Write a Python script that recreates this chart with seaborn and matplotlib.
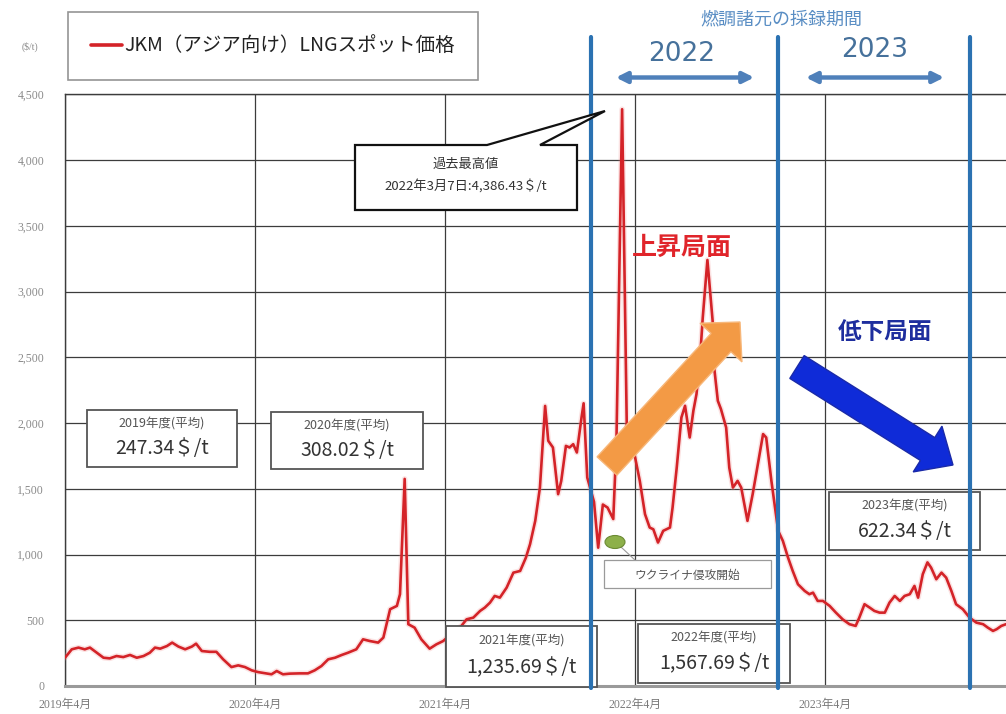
import numpy as np
import pandas as pd
import matplotlib
matplotlib.use("Agg")
import matplotlib.pyplot as plt
from matplotlib.transforms import Affine2D
from matplotlib.patches import Rectangle, Polygon, FancyArrow, Ellipse, FancyArrowPatch
from matplotlib.lines import Line2D
import seaborn as sns

# ---- data -------------------------------------------------------------
dates = [
    "2019-04-01", "2019-04-14", "2019-04-27", "2019-05-09", "2019-05-19", "2019-06-01",
    "2019-06-14", "2019-06-26", "2019-07-09", "2019-07-22", "2019-08-04", "2019-08-17",
    "2019-08-30", "2019-09-11", "2019-09-21", "2019-10-01", "2019-10-14", "2019-10-24",
    "2019-11-05", "2019-11-18", "2019-12-01", "2019-12-09", "2019-12-20", "2020-01-04",
    "2020-01-17", "2020-01-30", "2020-02-15", "2020-02-28", "2020-03-12", "2020-03-25",
    "2020-04-06", "2020-04-22", "2020-05-02", "2020-05-12", "2020-05-24", "2020-06-06",
    "2020-06-25", "2020-07-11", "2020-07-24", "2020-08-06", "2020-08-19", "2020-09-01",
    "2020-09-14", "2020-09-26", "2020-10-12", "2020-10-25", "2020-11-07", "2020-11-23",
    "2020-12-03", "2020-12-16", "2020-12-29", "2021-01-04", "2021-01-13", "2021-01-20",
    "2021-02-01", "2021-02-14", "2021-03-02", "2021-03-15", "2021-03-28", "2021-04-14",
    "2021-05-02", "2021-05-12", "2021-05-25", "2021-06-07", "2021-06-16", "2021-06-26",
    "2021-07-05", "2021-07-15", "2021-07-28", "2021-08-10", "2021-08-23", "2021-09-03",
    "2021-09-11", "2021-09-21", "2021-09-30", "2021-10-10", "2021-10-16", "2021-10-25",
    "2021-11-04", "2021-11-10", "2021-11-19", "2021-11-26", "2021-12-03", "2021-12-10",
    "2021-12-19", "2021-12-23", "2021-12-30", "2022-01-12", "2022-01-20", "2022-01-29",
    "2022-02-07", "2022-02-18", "2022-02-24", "2022-03-07", "2022-03-16", "2022-03-22",
    "2022-04-01", "2022-04-10", "2022-04-20", "2022-04-29", "2022-05-06", "2022-05-15",
    "2022-05-25", "2022-06-07", "2022-06-12", "2022-06-20", "2022-06-29", "2022-07-06",
    "2022-07-15", "2022-07-22", "2022-07-28", "2022-08-04", "2022-08-09", "2022-08-18",
    "2022-08-28", "2022-08-31", "2022-09-07", "2022-09-13", "2022-09-23", "2022-09-29",
    "2022-10-06", "2022-10-15", "2022-10-22", "2022-11-03", "2022-11-13", "2022-11-23",
    "2022-12-03", "2022-12-09", "2022-12-19", "2023-01-01", "2023-01-10", "2023-01-20",
    "2023-01-29", "2023-02-08", "2023-02-21", "2023-03-02", "2023-03-09", "2023-03-18",
    "2023-03-28", "2023-04-10", "2023-04-22", "2023-05-05", "2023-05-18", "2023-05-30",
    "2023-06-06", "2023-06-16", "2023-06-26", "2023-07-05", "2023-07-15", "2023-07-25",
    "2023-08-03", "2023-08-13", "2023-08-23", "2023-09-01", "2023-09-11", "2023-09-20",
    "2023-09-27", "2023-10-06", "2023-10-15", "2023-10-22", "2023-11-01", "2023-11-11",
    "2023-11-20", "2023-11-30", "2023-12-09", "2023-12-22", "2024-01-04", "2024-01-17",
    "2024-01-30", "2024-02-08", "2024-02-18", "2024-02-25", "2024-03-05", "2024-03-14",
]
prices = [
    215, 279, 292, 279, 292, 253,
    215, 210, 228, 220, 236, 215,
    228, 253, 292, 284, 304, 330,
    300, 279, 300, 322, 266, 260,
    260, 203, 144, 157, 144, 119,
    106, 96, 89, 114, 89, 94,
    96, 96, 119, 152, 203, 215,
    236, 253, 279, 355, 342, 330,
    368, 584, 609, 698, 1575, 470,
    444, 355, 284, 317, 342, 400,
    457, 507, 520, 571, 596, 634,
    685, 672, 748, 862, 875, 976,
    1078, 1256, 1509, 2130, 1865, 1814,
    1459, 1560, 1826, 1814, 1839, 1776,
    2042, 2150, 1585, 1400, 1052, 1380,
    1357, 1270, 1840, 4386.43, 1966, 1865,
    1738, 1560, 1307, 1205, 1192, 1091,
    1180, 1205, 1357, 1661, 2042, 2131,
    1890, 2093, 2220, 2500, 2800, 3240,
    2778, 2422, 2169, 2106, 1966, 1661,
    1509, 1560, 1509, 1256, 1459, 1687,
    1916, 1890, 1560, 1180, 1104, 976,
    875, 774, 723, 698, 710, 647,
    647, 609, 558, 507, 470, 457,
    520, 622, 596, 571, 558, 558,
    634, 685, 647, 685, 698, 761,
    672, 850, 940, 900, 812, 862,
    824, 723, 622, 584, 520, 482,
    470, 444, 419, 432, 457, 470,
]
series_label = "JKM（アジア向け）LNGスポット価格"

fiscal_titles = ["2019年度(平均)", "2020年度(平均)", "2021年度(平均)", "2022年度(平均)", "2023年度(平均)"]
fiscal_avgs = [247.34, 308.02, 1235.69, 1567.69, 622.34]

peak_date = "2022-03-07"
peak_value = 4386.43

period_bounds = ["2022-01-06", "2023-01-01", "2024-01-04"]
period_labels = ["2022", "2023"]

ytick_values = [0, 500, 1000, 1500, 2000, 2500, 3000, 3500, 4000, 4500]
ytick_labels = ["0", "500", "1,000", "1,500", "2,000", "2,500", "3,000", "3,500", "4,000", "4,500"]
xtick_dates = ["2019-04-01", "2020-04-01", "2021-04-01", "2022-04-01", "2023-04-01"]
xtick_labels = ["2019年4月", "2020年4月", "2021年4月", "2022年4月", "2023年4月"]

df = pd.DataFrame({"date": pd.to_datetime(dates), "price": prices})

# ---- figure -----------------------------------------------------------
W, H = 1006, 714
sns.set_style("white")
plt.rcParams["font.family"] = ["Noto Sans CJK JP", "DejaVu Sans"]

fig = plt.figure(figsize=(W / 100, H / 100), dpi=100)
fig.patch.set_facecolor("white")
# page-pixel transform (origin top-left) for annotations
px = Affine2D().scale(1 / W, -1 / H).translate(0, 1) + fig.transFigure

ax_left, ax_bottom_px, ax_top_px = 65, 686, 94.3
ax = fig.add_axes([ax_left / W, 1 - ax_bottom_px / H, 1 - ax_left / W, (ax_bottom_px - ax_top_px) / H])

RED = "#d42328"
# soft halo then the main price line
sns.lineplot(data=df, x="date", y="price", ax=ax, color="#f29090", lw=4.0, alpha=0.25,
             legend=False, zorder=3)
sns.lineplot(data=df, x="date", y="price", ax=ax, color=RED, lw=1.9, label=series_label, zorder=4)

ax.set_xlim(pd.Timestamp("2019-04-01"), pd.Timestamp("2024-03-14"))
ax.set_ylim(0, 4500)
ax.set_xlabel("")
ax.set_ylabel("")

ax.set_yticks(ytick_values)
ax.set_yticklabels(ytick_labels, family=["Liberation Serif", "DejaVu Serif"], fontsize=8.5, color="#8a8a8a")
ax.set_xticks(pd.to_datetime(xtick_dates))
ax.set_xticklabels(xtick_labels, family=["Liberation Serif", "Noto Sans CJK JP"], fontsize=8.5, color="#7a7a7a")
ax.tick_params(axis="y", length=0, pad=15)
ax.tick_params(axis="x", length=0, pad=9)

ax.grid(True, color="#3c3c3c", lw=0.9)
ax.set_axisbelow(True)
for side in ["left", "top"]:
    ax.spines[side].set_color("#3c3c3c")
    ax.spines[side].set_linewidth(1.0)
ax.spines["right"].set_visible(False)
ax.spines["bottom"].set_color("#9a9a9a")
ax.spines["bottom"].set_linewidth(2.2)

# legend box above the plot
leg = ax.legend(loc="upper left", bbox_to_anchor=(68, 12), bbox_transform=px, borderaxespad=0,
                frameon=True, fancybox=False, edgecolor="#7a7a7a",
                handlelength=1.6, handletextpad=0.1, borderpad=1.2,
                prop={"family": ["Noto Sans CJK JP"], "size": 14})
leg.get_frame().set_linewidth(1.2)
for h in leg.get_lines():
    h.set_linewidth(2.6)
for t in leg.get_texts():
    t.set_color("#222222")

ax.text(30, 47, "($/t)", transform=px, ha="center", va="center", fontsize=7,
        family=["Liberation Serif", "DejaVu Serif"], color="#8a8a8a")

# ---- sampling period markers ------------------------------------------
BLUE_V = "#2b72b2"
top_frac = (ax_bottom_px - 37) / (ax_bottom_px - ax_top_px)
for d in period_bounds:
    ax.axvline(pd.Timestamp(d), ymin=-0.003, ymax=top_frac, color=BLUE_V, lw=3.0,
               clip_on=False, zorder=9)

ax.text(781, 19, "燃調諸元の採録期間", transform=px, ha="center", va="center",
        fontsize=13, color="#5a8ec4")
for label, (cx, cy), (xa, xb) in zip(period_labels, [(682, 54), (875, 50)], [(613, 757), (803, 947)]):
    ax.text(cx, cy, label, transform=px, ha="center", va="center", fontsize=19,
            family=["DejaVu Sans"], color="#46719b")
    arr = FancyArrowPatch((xa, 77.5), (xb, 77.5), transform=px, arrowstyle="<|-|>",
                          mutation_scale=16, lw=3.2, color="#4f80ba", clip_on=False, zorder=9)
    ax.add_artist(arr)

# ---- fiscal-year average boxes -----------------------------------------
box_rects = [(87, 410, 237, 467), (271, 412, 423, 469), (446, 626, 597, 687),
             (638, 624, 790, 683), (829, 492, 980, 550)]
for title, avg, (x0, y0, x1, y1) in zip(fiscal_titles, fiscal_avgs, box_rects):
    rect = Rectangle((x0, y0), x1 - x0, y1 - y0, transform=px, facecolor="white",
                     edgecolor="#555555", lw=1.3, clip_on=False, zorder=7)
    ax.add_artist(rect)
    cx = (x0 + x1) / 2
    hgt = y1 - y0
    ax.text(cx, y0 + hgt * 0.24, title, transform=px, ha="center", va="center",
            fontsize=9, color="#555555", zorder=8)
    ax.text(cx, y0 + hgt * 0.68, f"{avg:,.2f}＄/t", transform=px, ha="center", va="center",
            fontsize=14, color="#333333", zorder=8)

# ---- record-high callout ------------------------------------------------
callout = Polygon([(355, 145), (487, 145), (605, 111), (540, 145), (577, 145), (577, 210), (355, 210)],
                  closed=True, transform=px, facecolor="white", edgecolor="#111111", lw=1.6,
                  clip_on=False, zorder=10)
ax.add_artist(callout)
pk = pd.Timestamp(peak_date)
ax.text(466, 164, "過去最高値", transform=px, ha="center", va="center", fontsize=9.5,
        color="#333333", zorder=11)
ax.text(466, 186, f"{pk.year}年{pk.month}月{pk.day}日:{peak_value:,.2f}＄/t", transform=px,
        ha="center", va="center", fontsize=9.5, color="#333333", zorder=11)

# ---- phase arrows and captions --------------------------------------------
up = FancyArrow(607, 466, 133, -144, width=27, head_width=57, head_length=28,
                length_includes_head=True, transform=px, facecolor="#f39a45",
                edgecolor="#f7b77a", lw=1.0, clip_on=False, zorder=8)
ax.add_artist(up)
down = FancyArrow(797, 367, 156, 98, width=27, head_width=54, head_length=30,
                  length_includes_head=True, transform=px, facecolor="#0f2bd8",
                  edgecolor="#1a2aa8", lw=1.0, clip_on=False, zorder=8)
ax.add_artist(down)
ax.text(682, 248, "上昇局面", transform=px, ha="center", va="center", fontsize=18,
        fontweight="bold", color="#e0252b", zorder=8)
ax.text(885, 332, "低下局面", transform=px, ha="center", va="center", fontsize=17,
        fontweight="bold", color="#1e2e9e", zorder=8)

# ---- invasion marker ----------------------------------------------------------
ax.add_artist(Line2D([621, 636], [547, 561], transform=px, color="#999999", lw=0.8,
                     clip_on=False, zorder=7))
ax.add_artist(Ellipse((615, 542), 20, 13, transform=px, facecolor="#8db04a",
                      edgecolor="#6b8a34", lw=0.8, clip_on=False, zorder=8))
ax.add_artist(Rectangle((604, 560), 167, 28, transform=px, facecolor="white",
                        edgecolor="#9a9a9a", lw=0.9, clip_on=False, zorder=7))
ax.text(687, 575, "ウクライナ侵攻開始", transform=px, ha="center", va="center",
        fontsize=8.5, color="#555555", zorder=8)

fig.savefig("out.png", dpi=100, facecolor="white")
